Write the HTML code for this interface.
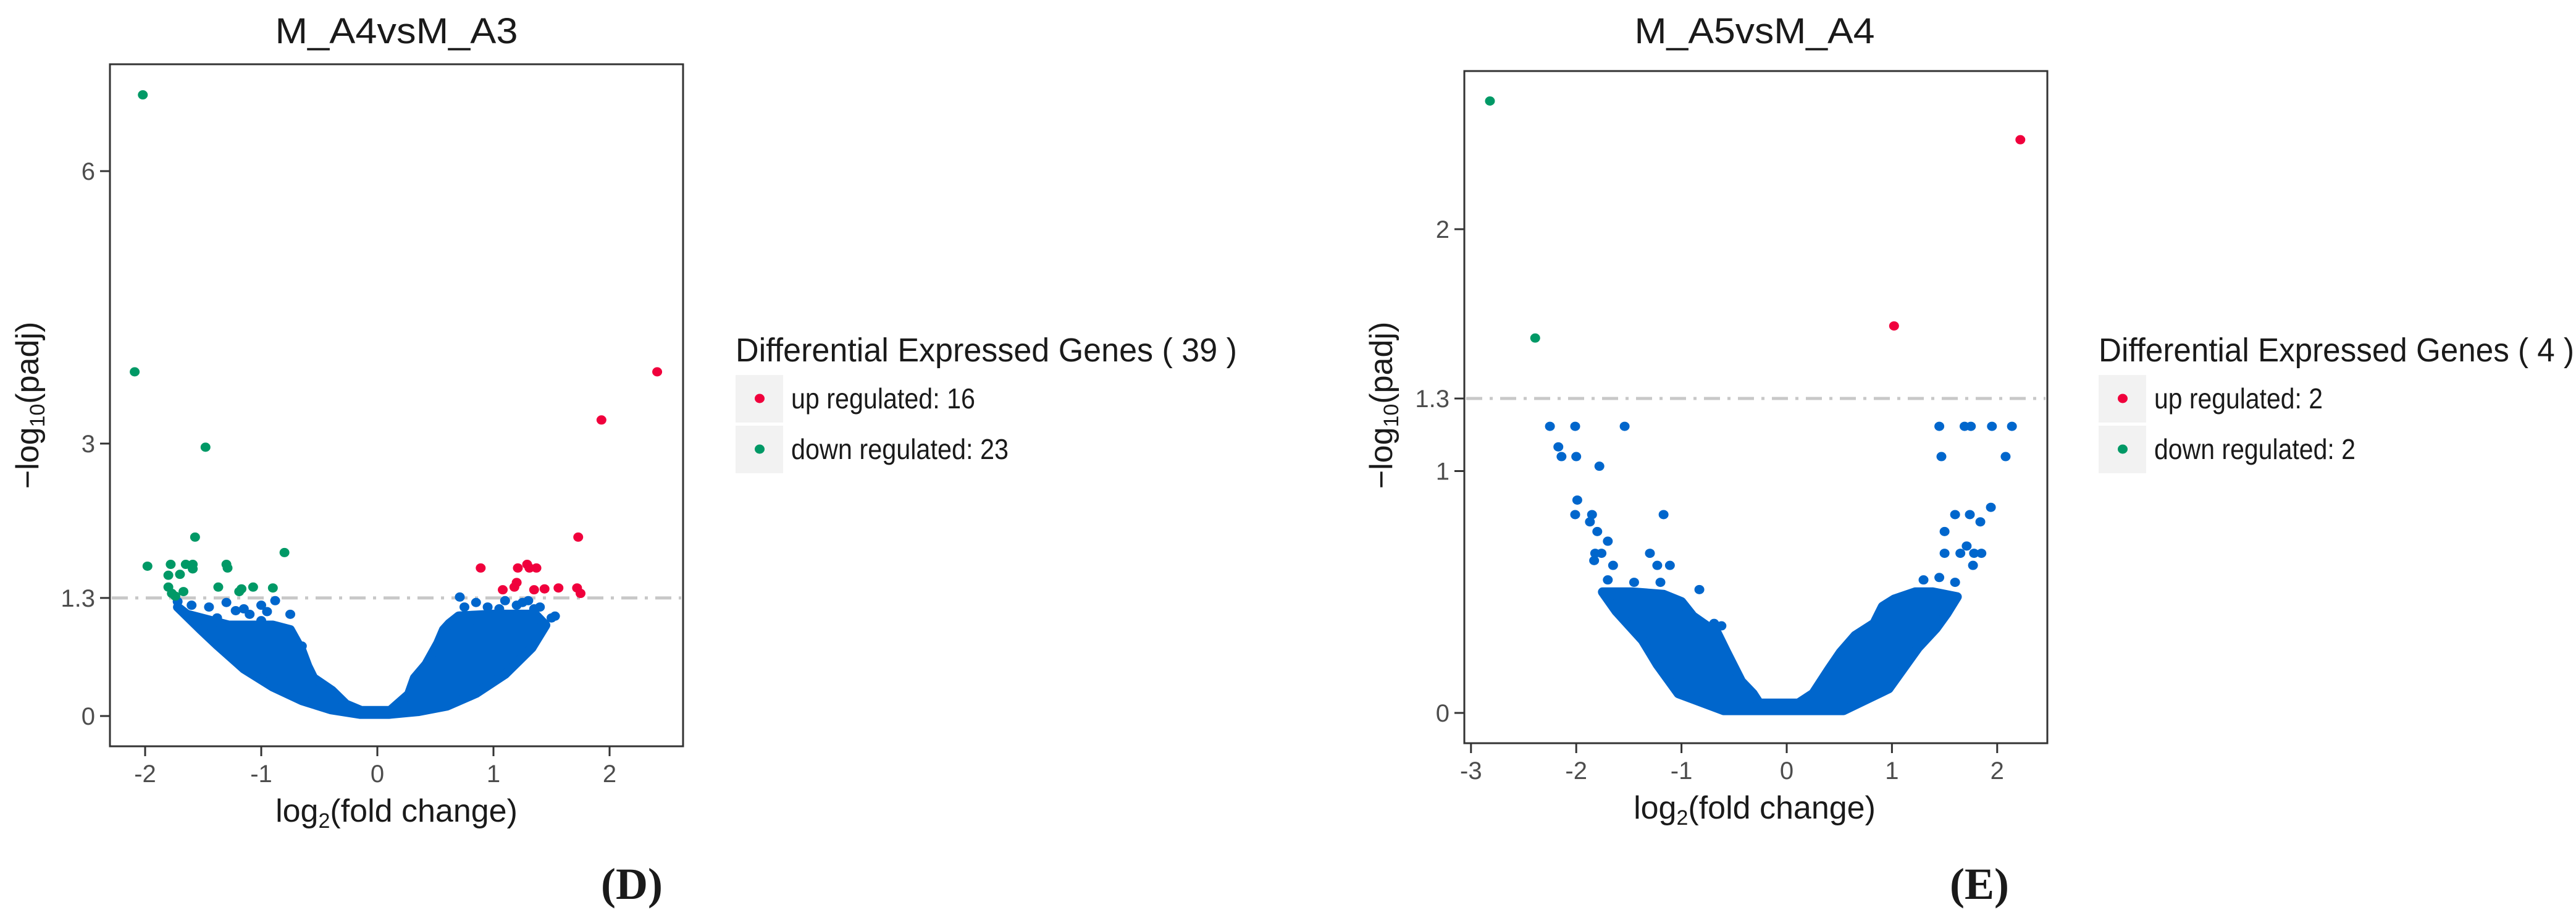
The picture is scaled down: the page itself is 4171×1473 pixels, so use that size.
<!DOCTYPE html>
<html><head><meta charset="utf-8"><style>
html,body{margin:0;padding:0;background:#fff}
svg{display:block}
text{font-family:"Liberation Sans",sans-serif;fill:#1a1a1a}
.tick{fill:#4d4d4d;font-size:40px}
</style></head><body>
<svg id="fig" width="4171" height="1473" viewBox="0 0 4171 1473" xmlns="http://www.w3.org/2000/svg"></svg>
<script>
// ---------- Panel D data (M_A4vsM_A3) ----------
const dXTicks = [-2, -1, 0, 1, 2];
const dYTicks = [0, 1.3, 3, 6];
const dYTickLabels = ["0", "1.3", "3", "6"];
const dUpX = [2.41, 1.93, 1.73, 0.89, 1.21, 1.29, 1.31, 1.37, 1.20, 1.18, 1.08, 1.35, 1.44, 1.56, 1.72, 1.75];
const dUpY = [3.79, 3.26, 1.97, 1.63, 1.63, 1.67, 1.63, 1.63, 1.47, 1.42, 1.39, 1.39, 1.40, 1.41, 1.41, 1.35];
const dDownX = [-2.02, -2.09, -1.48, -1.57, -0.80, -1.98, -1.78, -1.65, -1.59, -1.30, -1.29, -1.80, -1.70, -1.80, -1.77, -1.67, -1.37, -1.17, -1.07, -0.90, -1.59, -1.74, -1.19];
const dDownY = [6.84, 3.79, 2.96, 1.97, 1.80, 1.65, 1.67, 1.67, 1.67, 1.67, 1.63, 1.55, 1.56, 1.42, 1.35, 1.37, 1.42, 1.40, 1.42, 1.41, 1.62, 1.32, 1.37];
const dCloudX = [-1.72, -1.52, -1.38, -1.15, -0.9, -0.65, -0.4, -0.15, 0.1, 0.35, 0.6, 0.85, 1.1, 1.33, 1.45, 1.36, 1.0, 0.70, 0.62, 0.57, 0.52, 0.42, 0.32, 0.27, 0.11, -0.14, -0.27, -0.39, -0.55, -0.6, -0.65, -0.75, -0.9, -1.28, -1.64];
const dCloudY = [1.2, 0.95, 0.78, 0.52, 0.32, 0.17, 0.07, 0.02, 0.02, 0.05, 0.11, 0.25, 0.46, 0.75, 1.0, 1.12, 1.12, 1.1, 1.02, 0.95, 0.80, 0.57, 0.42, 0.24, 0.06, 0.06, 0.13, 0.28, 0.42, 0.55, 0.72, 0.95, 1.0, 1.0, 1.12];
const dBlueX = [1.53, 1.50, -0.75, -0.65, -1.22, -0.88, 0.71, 1.25, 1.40, -1.00, -0.80, -1.72, -1.60, -1.45, -1.30, -1.15, -1.00, -0.95, 0.75, 0.85, 0.95, 1.10, 1.20, 1.30, -1.62, -1.38, -1.10, 0.80, 1.05, 1.35];
const dBlueY = [1.10, 1.08, 1.12, 0.77, 1.16, 1.27, 1.31, 1.25, 1.20, 1.05, 0.62, 1.26, 1.22, 1.20, 1.25, 1.18, 1.22, 1.15, 1.20, 1.25, 1.20, 1.27, 1.22, 1.27, 1.10, 1.08, 1.12, 1.05, 1.18, 1.18];

// ---------- Panel E data (M_A5vsM_A4) ----------
const eXTicks = [-3, -2, -1, 0, 1, 2];
const eYTicks = [0, 1, 1.3, 2];
const eYTickLabels = ["0", "1", "1.3", "2"];
const eUpX = [2.22, 1.02];
const eUpY = [2.37, 1.60];
const eDownX = [-2.82, -2.39];
const eDownY = [2.53, 1.55];
const eCloudX = [-1.75, -1.62, -1.37, -1.23, -1.03, -0.6, 0.54, 0.97, 1.25, 1.42, 1.52, 1.62, 1.39, 1.22, 1.02, 0.91, 0.83, 0.65, 0.51, 0.40, 0.25, 0.11, -0.26, -0.32, -0.43, -0.57, -0.66, -0.89, -1.0, -1.17, -1.46];
const eCloudY = [0.50, 0.42, 0.30, 0.20, 0.08, 0.01, 0.01, 0.10, 0.27, 0.35, 0.41, 0.48, 0.50, 0.50, 0.47, 0.44, 0.37, 0.32, 0.25, 0.18, 0.08, 0.04, 0.04, 0.08, 0.13, 0.25, 0.33, 0.40, 0.46, 0.49, 0.50];
const eBlueX = [-2.25, -2.01, -1.54, 1.45, 1.69, 1.75, 1.95, 2.14, -2.17, -2.14, -2.0, -1.78, 1.47, 2.08, -1.99, -2.01, -1.85, -1.87, -1.80, -1.70, -1.17, 1.94, 1.60, 1.74, 1.84, 1.50, 1.71, 1.50, 1.65, 1.78, 1.85, 1.77, -1.82, -1.76, -1.83, -1.65, -1.30, -1.23, -1.11, -0.83, -0.69, -0.62, -1.70, -1.45, -1.20, 1.30, 1.45, 1.60];
const eBlueY = [1.185, 1.185, 1.185, 1.185, 1.185, 1.185, 1.185, 1.185, 1.10, 1.06, 1.06, 1.02, 1.06, 1.06, 0.88, 0.82, 0.82, 0.79, 0.75, 0.71, 0.82, 0.85, 0.82, 0.82, 0.79, 0.75, 0.69, 0.66, 0.66, 0.66, 0.66, 0.61, 0.66, 0.66, 0.63, 0.61, 0.66, 0.61, 0.61, 0.51, 0.37, 0.36, 0.55, 0.54, 0.54, 0.55, 0.56, 0.54];

const NS = "http://www.w3.org/2000/svg";
const svg = document.getElementById('fig');
const BLUE = "#0066cc", RED = "#f0003c", GREEN = "#009966";
function mk(tag, attrs, parent) {
  const e = document.createElementNS(NS, tag);
  for (const k in attrs) e.setAttribute(k, attrs[k]);
  (parent || svg).appendChild(e);
  return e;
}

function panel(cfg) {
  const g = mk('g', {});
  
  
  const sx = v => cfg.x0 + v * cfg.kx;
  const sy = v => cfg.y0 - v * cfg.ky;

  const t = mk('text', {x: cfg.titleX, y: 70, 'font-size': 58, 'text-anchor': 'middle', textLength: cfg.titleW, lengthAdjust: 'spacingAndGlyphs'}, g);
  t.textContent = cfg.title;
  
  

  const th = mk('line', {x1: cfg.L + 3, x2: cfg.R - 3, y1: sy(1.3), y2: sy(1.3), stroke: '#c8c8c8', 'stroke-width': 5, 'stroke-dasharray': '26 12 5 12'}, g);
  
  

  let d = '';
  cfg.cloudX.forEach((v, i) => { d += (i ? 'L' : 'M') + sx(v).toFixed(1) + ',' + sy(cfg.cloudY[i]).toFixed(1); });
  const cl = mk('path', {d: d + 'Z', fill: BLUE, stroke: BLUE, 'stroke-width': 15, 'stroke-linejoin': 'round'}, g);
  
  

  const dots = (xs, ys, col, nm) => xs.forEach((v, i) => {
    const c = mk('ellipse', {cx: sx(v), cy: sy(ys[i]), rx: 8, ry: 7.5, fill: col}, g);
    
    
  });
  dots(cfg.blueX, cfg.blueY, BLUE, 'gene-point-ns');
  dots(cfg.downX, cfg.downY, GREEN, 'gene-point-down');
  dots(cfg.upX, cfg.upY, RED, 'gene-point-up');

  const fr = mk('rect', {x: cfg.L, y: cfg.T, width: cfg.R - cfg.L, height: cfg.B - cfg.T, fill: 'none', stroke: '#333', 'stroke-width': 3}, g);
  
  

  cfg.yTicks.forEach((v, i) => {
    mk('line', {x1: cfg.L - 16, x2: cfg.L, y1: sy(v), y2: sy(v), stroke: '#333', 'stroke-width': 3}, g);
    const tl = mk('text', {x: cfg.L - 24, y: sy(v) + 14, 'text-anchor': 'end', class: 'tick'}, g);
    tl.textContent = cfg.yTickLabels[i];
    
    
  });
  cfg.xTicks.forEach(v => {
    mk('line', {x1: sx(v), x2: sx(v), y1: cfg.B, y2: cfg.B + 16, stroke: '#333', 'stroke-width': 3}, g);
    const tl = mk('text', {x: sx(v), y: cfg.B + 58, 'text-anchor': 'middle', class: 'tick'}, g);
    tl.textContent = String(v);
    
    
  });

  const xt = mk('text', {x: cfg.xTitleX, y: cfg.B + 122, 'font-size': 52, 'text-anchor': 'middle'}, g);
  xt.innerHTML = 'log<tspan font-size="34" dy="10">2</tspan><tspan dy="-10">(fold change)</tspan>';
  
  

  const yt = mk('text', {x: 0, y: 0, 'font-size': 52, 'text-anchor': 'middle', transform: `translate(${cfg.yTitleX},656) rotate(-90)`}, g);
  yt.innerHTML = '\u2212log<tspan font-size="34" dy="10">10</tspan><tspan dy="-10">(padj)</tspan>';
  
  

  const lg = mk('g', {}, g);
  
  
  const lt = mk('text', {x: cfg.legX, y: 585, 'font-size': 54, textLength: cfg.legTitleW, lengthAdjust: 'spacingAndGlyphs'}, lg);
  lt.textContent = cfg.legTitle;
  
  
  [[RED, cfg.upLabel, 607, cfg.upW], [GREEN, cfg.downLabel, 689, cfg.downW]].forEach(([c, lab, y, w]) => {
    const e = mk('g', {}, lg);
    
    
    mk('rect', {x: cfg.legX, y: y, width: 77, height: 77, fill: '#f2f2f2'}, e);
    mk('ellipse', {cx: cfg.legX + 39, cy: y + 38, rx: 8, ry: 7.5, fill: c}, e);
    const tx = mk('text', {x: cfg.legX + 90, y: y + 54, 'font-size': 46, textLength: w, lengthAdjust: 'spacingAndGlyphs'}, e);
    tx.textContent = lab;
  });

  const pl = mk('text', {x: cfg.letterX, y: 1455, 'font-size': 72, 'font-weight': 'bold', 'text-anchor': 'middle', style: 'font-family:"Liberation Serif",serif'}, g);
  pl.textContent = cfg.letter;
  
  
}

panel({name: 'panel-d', title: 'M_A4vsM_A3', titleX: 642, titleW: 393,
  L: 178, R: 1106, T: 104, B: 1208, x0: 611, kx: 188, y0: 1159, ky: 147,
  xTicks: dXTicks, yTicks: dYTicks, yTickLabels: dYTickLabels,
  cloudX: dCloudX, cloudY: dCloudY, blueX: dBlueX, blueY: dBlueY,
  upX: dUpX, upY: dUpY, downX: dDownX, downY: dDownY,
  xTitleX: 642, yTitleX: 62,
  legX: 1191, legTitle: 'Differential Expressed Genes ( 39 )', legTitleW: 812,
  upLabel: 'up regulated: 16', upW: 298, downLabel: 'down regulated: 23', downW: 352,
  letter: '(D)', letterX: 1023});

panel({name: 'panel-e', title: 'M_A5vsM_A4', titleX: 2841, titleW: 389,
  L: 2371, R: 3315, T: 115, B: 1203, x0: 2893, kx: 170.4, y0: 1154, ky: 391.5,
  xTicks: eXTicks, yTicks: eYTicks, yTickLabels: eYTickLabels,
  cloudX: eCloudX, cloudY: eCloudY, blueX: eBlueX, blueY: eBlueY,
  upX: eUpX, upY: eUpY, downX: eDownX, downY: eDownY,
  xTitleX: 2841, yTitleX: 2254,
  legX: 3398, legTitle: 'Differential Expressed Genes ( 4 )', legTitleW: 770,
  upLabel: 'up regulated: 2', upW: 273, downLabel: 'down regulated: 2', downW: 326,
  letter: '(E)', letterX: 3205});
</script>
</body></html>
